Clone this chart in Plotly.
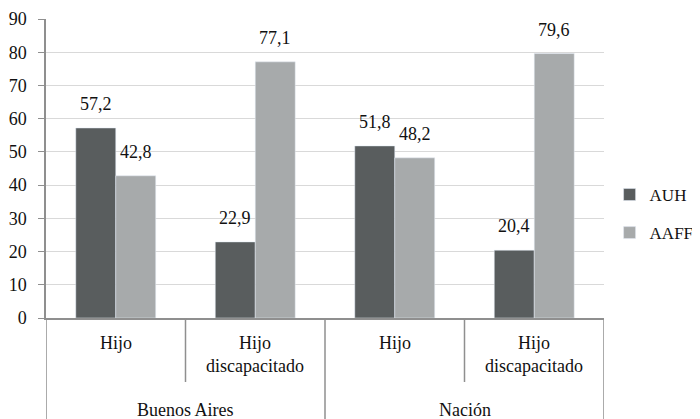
import plotly.graph_objects as go

# Datos
regiones = ["Buenos Aires", "Nación"]
subgrupos = ["Hijo", "Hijo<br>discapacitado"]
auh = [57.2, 22.9, 51.8, 20.4]
aaff = [42.8, 77.1, 48.2, 79.6]
y_ticks = [0, 10, 20, 30, 40, 50, 60, 70, 80, 90]

categorias = [f"{r} - {s}" for r in regiones for s in subgrupos]

FONT = "'Liberation Serif', 'DejaVu Serif', serif"
C_AUH = "#595d5e"
C_AAFF = "#a7aaab"
LINE = "#8f8f8f"

fig = go.Figure()
fig.add_trace(go.Bar(x=categorias, y=auh, name="AUH", marker_color=C_AUH,
                     legendgroup="a"))
fig.add_trace(go.Bar(x=categorias, y=aaff, name="AAFF", marker_color=C_AAFF,
                     legendgroup="b"))

def fmt(v):
    return f"{v:.1f}".replace(".", ",")

# etiquetas de valores sobre las barras
for i in range(len(categorias)):
    for vals, dx in ((auh, -20), (aaff, 20)):
        fig.add_annotation(x=i, y=vals[i], text=fmt(vals[i]), showarrow=False,
                           xref="x", yref="y", yanchor="bottom",
                           xshift=dx, yshift=12,
                           font=dict(family=FONT, size=18))

# etiquetas del eje x (dos niveles)
for i, cat in enumerate(categorias):
    fig.add_annotation(x=i, y=-0.045, xref="x", yref="paper", yanchor="top",
                       text=subgrupos[i % 2], showarrow=False,
                       font=dict(family=FONT, size=18))
for j, reg in enumerate(regiones):
    fig.add_annotation(x=2 * j + 0.5, y=-0.308, xref="x", yref="paper",
                       yanchor="middle", text=reg, showarrow=False,
                       font=dict(family=FONT, size=18))

# divisores
for xb in [-0.5, 1.5, 3.5]:
    fig.add_shape(type="line", xref="x", yref="paper", x0=xb, x1=xb,
                  y0=0, y1=-0.36, line=dict(color=LINE, width=1.5))
for xb in [0.5, 2.5]:
    fig.add_shape(type="line", xref="x", yref="paper", x0=xb, x1=xb,
                  y0=0, y1=-0.214, line=dict(color=LINE, width=1.5))

fig.update_layout(
    width=692, height=411,
    margin=dict(l=38, r=96, t=11, b=101, autoexpand=False),
    paper_bgcolor="white", plot_bgcolor="white",
    font=dict(family=FONT, size=18, color="#111111"),
    barmode="group", bargap=0.427, bargroupgap=0,
    showlegend=True,
    legend=dict(x=1.01, y=0.348, xanchor="left", yanchor="middle",
                traceorder="grouped", tracegroupgap=13,
                font=dict(family=FONT, size=17), bgcolor="rgba(0,0,0,0)"),
    xaxis=dict(range=[-0.5, 3.5], showticklabels=False, showline=True,
               linecolor=LINE, linewidth=1.5, showgrid=False, ticks=""),
    yaxis=dict(range=[0, 90], tickvals=y_ticks, showline=True,
               linecolor=LINE, linewidth=1.5, ticks="outside", ticklen=6,
               tickcolor=LINE, gridcolor="#d9d9d9", gridwidth=1.2,
               zeroline=False, ticklabelstandoff=8,
               tickfont=dict(family=FONT, size=18)),
)

fig.write_html("out.html")
